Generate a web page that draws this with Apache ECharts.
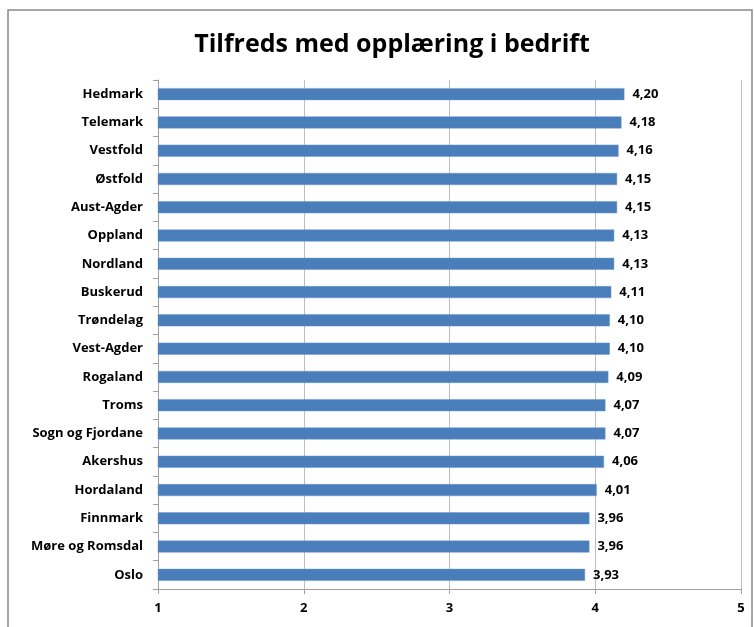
<!DOCTYPE html>
<html>
<head>
<meta charset="utf-8">
<script src="https://cdn.jsdelivr.net/npm/echarts@6/dist/echarts.min.js"></script>
<style>html,body{margin:0;padding:0;background:#fff}#c{width:754px;height:627px}</style>
</head>
<body>
<div id="c"></div>
<script>
const categories = ["Hedmark","Telemark","Vestfold","Østfold","Aust-Agder","Oppland","Nordland","Buskerud","Trøndelag","Vest-Agder","Rogaland","Troms","Sogn og Fjordane","Akershus","Hordaland","Finnmark","Møre og Romsdal","Oslo"];
const values = [4.20,4.18,4.16,4.15,4.15,4.13,4.13,4.11,4.10,4.10,4.09,4.07,4.07,4.06,4.01,3.96,3.96,3.93];
const xTicks = [1,2,3,4,5];

const chart = echarts.init(document.getElementById('c'));
const font = '"Open Sans", "Noto Sans", sans-serif';
chart.setOption({
  animation: false,
  title: {
    text: 'Tilfreds med opplæring i bedrift',
    left: 387, top: 27, textAlign: 'center',
    textStyle: {fontFamily: font, fontSize: 25, fontWeight: 'bold', color: '#000'}
  },
  graphic: [{
    type: 'rect', shape: {x: 8, y: 10, width: 744, height: 640},
    style: {fill: 'none', stroke: '#8a8a8a', lineWidth: 1.5}, silent: true, z: -1
  }],
  grid: {left: 158, right: 13, top: 80, bottom: 38, containLabel: false},
  xAxis: {
    type: 'value', min: xTicks[0], max: xTicks[xTicks.length-1], interval: 1,
    axisLine: {show: true, lineStyle: {color: '#a0a0a0'}},
    axisTick: {show: true, length: 5, lineStyle: {color: '#a0a0a0'}},
    splitLine: {show: true, lineStyle: {color: '#bdbdbd'}},
    axisLabel: {fontFamily: font, fontSize: 13, fontWeight: 'bold', color: '#000', margin: 13}
  },
  yAxis: {
    type: 'category', data: categories, inverse: true,
    axisLine: {show: true, lineStyle: {color: '#a0a0a0'}},
    axisTick: {show: true, length: 5, lineStyle: {color: '#a0a0a0'}},
    axisLabel: {fontFamily: font, fontSize: 13, fontWeight: 'bold', color: '#000', margin: 15}
  },
  series: [{
    type: 'bar', data: values, barWidth: 12,
    itemStyle: {color: '#4a7ebb', borderColor: '#6d97cc', borderWidth: 0.5},
    label: {
      show: true, position: 'right', distance: 8,
      fontFamily: font, fontSize: 13, fontWeight: 'bold', color: '#000',
      formatter: p => p.value.toFixed(2).replace('.', ',')
    }
  }]
});
</script>
</body>
</html>
